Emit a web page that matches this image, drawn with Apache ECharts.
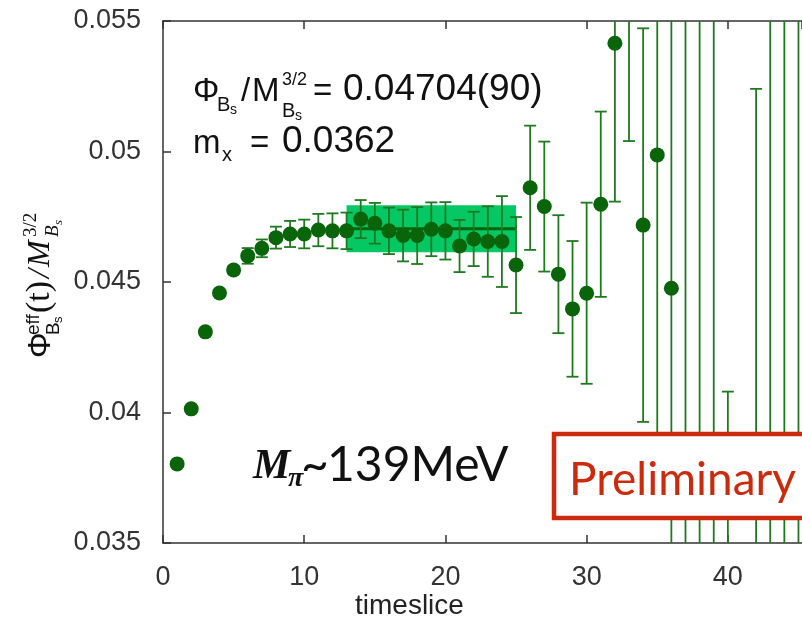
<!DOCTYPE html>
<html>
<head>
<meta charset="utf-8">
<script src="https://cdn.jsdelivr.net/npm/echarts@6/dist/echarts.min.js"></script>
<style>
  html, body { margin: 0; padding: 0; background: #fff; }
  #chart { width: 802px; height: 623px; }
</style>
</head>
<body>
<div id="chart"></div>
<script>
// timeslices and effective decay constant values
var timeslices = [1, 2, 3, 4, 5, 6, 7, 8, 9, 10, 11, 12, 13, 14, 15, 16, 17, 18, 19, 20,
  21, 22, 23, 24, 25, 26, 27, 28, 29, 30, 31, 32, 33, 34, 35, 36, 37, 38, 39, 40,
  41, 42, 43, 44, 45];
var phiEff = [0.03803, 0.04014, 0.04309, 0.04458, 0.04546, 0.04600, 0.04629, 0.04670, 0.04684, 0.04684,
  0.04699, 0.04696, 0.04696, 0.04741, 0.04725, 0.04696, 0.04678, 0.04678, 0.04702, 0.04696,
  0.04638, 0.04665, 0.04655, 0.04655, 0.04565, 0.04861, 0.04789, 0.04530, 0.04397, 0.04457,
  0.04798, 0.05415, 0.05750, 0.04718, 0.04987, 0.04476, 0.05800, 0.03100, 0.05900, 0.03200,
  0.02600, 0.03300, 0.03000, 0.06100, 0.02800];
var phiErr = [0.00005, 0.00005, 0.00006, 0.0001, 0.00015, 0.0003, 0.00034, 0.00042, 0.0005, 0.00055,
  0.00062, 0.00067, 0.0007, 0.00073, 0.00078, 0.00089, 0.00099, 0.00109, 0.00103, 0.0011,
  0.001, 0.00104, 0.00135, 0.00174, 0.00184, 0.00238, 0.00249, 0.00226, 0.0026, 0.00347,
  0.00355, 0.00607, 0.0071, 0.00754, 0.011, 0.012, 0.03, 0.03, 0.035, 0.0088,
  0.006, 0.0194, 0.03, 0.04, 0.04];
// plateau fit
var fitRange = [13, 25];
var fitValue = 0.04704;
var fitErr = 0.0009;
var yTicks = [0.035, 0.04, 0.045, 0.05, 0.055];
var xTicks = [0, 10, 20, 30, 40];

var myChart = echarts.init(document.getElementById('chart'));

var points = [], bars = [];
for (var i = 0; i < timeslices.length; i++) {
  points.push([timeslices[i], phiEff[i]]);
  bars.push([timeslices[i], phiEff[i] - phiErr[i], phiEff[i] + phiErr[i]]);
}

var sans = '"Liberation Sans", Arial, sans-serif';
var serif = '"Liberation Serif", "Times New Roman", serif';
var gill = 'Lato, "Open Sans", sans-serif';

// text piece placed by baseline
function txt(x, base, text, size, family, extra) {
  extra = extra || {};
  return {
    type: 'text',
    x: x,
    y: base - 0.35 * size,
    z: extra.z || 50,
    style: {
      text: text,
      font: (extra.style || 'normal') + ' ' + (extra.weight || 'normal') + ' ' + size + 'px ' + family,
      fill: extra.fill || '#111',
      textAlign: 'left',
      textVerticalAlign: 'middle'
    }
  };
}

// rotated y axis title, laid out horizontally then turned
var yTitle = {
  type: 'group',
  x: 41,
  y: 358,
  rotation: Math.PI / 2,
  children: [
    txt(0, 11, 'Φ', 32, sans),
    txt(23, -1, 'eff', 19, sans),
    txt(23, 19, 'B', 19, sans),
    txt(35, 22, 's', 13, sans),
    txt(45, 11, '(t)', 34, serif),
    txt(80, 11, '/', 32, serif, {style: 'italic'}),
    txt(91, 11, 'M', 32, serif, {style: 'italic'}),
    txt(121, -3, '3/2', 19, serif),
    txt(121, 19, 'B', 19, serif, {style: 'italic'}),
    txt(133, 22, 's', 13, serif, {style: 'italic'})
  ]
};

var annotations = [
  yTitle,
  txt(193, 103, 'Φ', 33, sans),
  txt(217, 112, 'B', 20, sans),
  txt(230, 115, 's', 14, sans),
  txt(241, 103, '/', 33, sans),
  txt(252, 103, 'M', 33, sans),
  txt(282, 86, '3/2', 18, sans),
  txt(282, 118, 'B', 20, sans),
  txt(295, 121, 's', 14, sans),
  txt(313, 103, '=', 33, sans),
  txt(343, 103, '0.04704(90)', 37, sans),
  txt(193, 155, 'm', 33, sans),
  txt(222, 162, 'x', 20, sans),
  txt(250, 155, '=', 33, sans),
  txt(282, 155, '0.0362', 37, sans),
  txt(253, 482, 'M', 42, serif, {style: 'italic', weight: 'bold'}),
  txt(288, 489, 'π', 28, serif, {style: 'italic', weight: 'bold'}),
  txt(301, 482, '~', 48, gill),
  txt(327, 482, '139MeV', 48, gill),
  txt(355, 616, 'timeslice', 28, sans, {fill: '#222'}),
  {
    type: 'rect',
    z: 60,
    shape: {x: 554, y: 434, width: 262, height: 84},
    style: {fill: '#fff', stroke: '#cc2a0c', lineWidth: 4.5}
  },
  txt(569, 496, 'Preliminary', 46, gill, {fill: '#cc2a0c', z: 61})
];

myChart.setOption({
  animation: false,
  backgroundColor: '#fff',
  grid: {left: 163, right: 0, top: 21, bottom: 80, containLabel: false},
  xAxis: [
    {
      type: 'value',
      position: 'bottom',
      min: 0,
      max: 45.25,
      interval: 10,
      axisLine: {show: true, onZero: false, lineStyle: {color: '#333', width: 1.5}},
      axisTick: {show: true, inside: true, length: 8, lineStyle: {color: '#333', width: 1.5}},
      axisLabel: {
        fontSize: 27, color: '#333', fontFamily: sans, margin: 21, showMaxLabel: false,
        formatter: function (v) { return xTicks.indexOf(v) >= 0 ? String(v) : ''; }
      },
      splitLine: {show: false}
    },
    {
      type: 'value',
      position: 'top',
      min: 0,
      max: 45.25,
      interval: 10,
      axisLine: {show: true, onZero: false, lineStyle: {color: '#333', width: 1.5}},
      axisTick: {show: true, inside: true, length: 8, lineStyle: {color: '#333', width: 1.5}},
      axisLabel: {show: false},
      splitLine: {show: false}
    }
  ],
  yAxis: {
    type: 'value',
    min: 0.035,
    max: 0.055,
    interval: 0.005,
    axisLine: {show: true, onZero: false, lineStyle: {color: '#333', width: 1.5}},
    axisTick: {show: true, inside: true, length: 8, lineStyle: {color: '#333', width: 1.5}},
    axisLabel: {
      fontSize: 27, color: '#333', fontFamily: sans, margin: 22,
      formatter: function (v) {
        var r = +v.toFixed(3);
        return yTicks.indexOf(r) >= 0 ? String(r) : '';
      }
    },
    splitLine: {show: false}
  },
  graphic: annotations,
  series: [
    {
      name: 'band',
      type: 'custom',
      clip: true,
      z: 1,
      data: [[fitRange[0], fitRange[1], fitValue - fitErr, fitValue + fitErr]],
      renderItem: function (params, api) {
        var p0 = api.coord([api.value(0), api.value(3)]);
        var p1 = api.coord([api.value(1), api.value(2)]);
        return {
          type: 'rect',
          shape: {x: p0[0], y: p0[1], width: p1[0] - p0[0], height: p1[1] - p0[1]},
          style: {fill: '#05c865'}
        };
      }
    },
    {
      name: 'fit',
      type: 'line',
      z: 2,
      symbol: 'none',
      data: [[fitRange[0], fitValue], [fitRange[1], fitValue]],
      lineStyle: {color: '#0a640a', width: 3}
    },
    {
      name: 'errors',
      type: 'custom',
      clip: true,
      z: 3,
      data: bars,
      renderItem: function (params, api) {
        var lo = api.coord([api.value(0), api.value(1)]);
        var hi = api.coord([api.value(0), api.value(2)]);
        var w = 6;
        var st = {stroke: '#1f7a1f', lineWidth: 1.8};
        return {
          type: 'group',
          children: [
            {type: 'line', shape: {x1: lo[0], y1: lo[1], x2: hi[0], y2: hi[1]}, style: st},
            {type: 'line', shape: {x1: lo[0] - w, y1: lo[1], x2: lo[0] + w, y2: lo[1]}, style: st},
            {type: 'line', shape: {x1: hi[0] - w, y1: hi[1], x2: hi[0] + w, y2: hi[1]}, style: st}
          ]
        };
      }
    },
    {
      name: 'phi',
      type: 'scatter',
      z: 4,
      clip: true,
      symbol: 'circle',
      symbolSize: 15,
      data: points,
      itemStyle: {color: '#0a640a', opacity: 1}
    }
  ]
});
</script>
</body>
</html>
